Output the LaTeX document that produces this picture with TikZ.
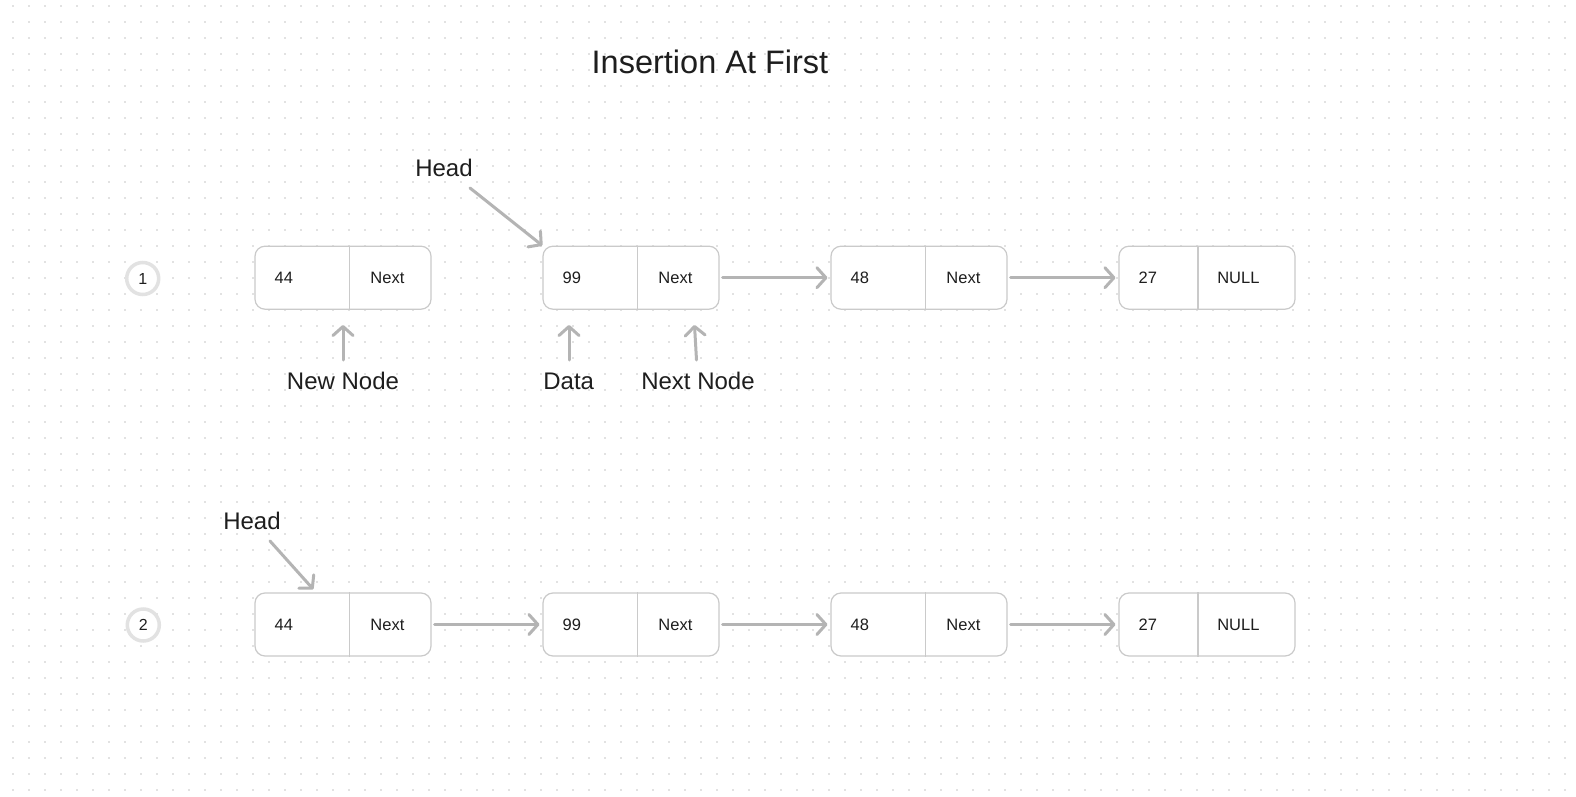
\documentclass[tikz,border=0pt]{standalone}
\usepackage{fontspec}
\setmainfont{Liberation Sans}
\usetikzlibrary{arrows.meta}
\definecolor{dotc}{HTML}{E2E2E2}
\definecolor{boxc}{HTML}{CACACA}
\definecolor{arrc}{HTML}{B4B4B4}
\definecolor{txt}{HTML}{1E1E1E}
\definecolor{circc}{HTML}{E2E2E2}
\newcommand\lln[7]{%
  \node[lnode] (#1) at (#2+88,#3) {};
  \draw[divline] ([xshift=#6pt]#1.north west) -- ([xshift=#6pt]#1.south west);
  \node[val, anchor=west] (#1d) at ([xshift=20pt]#1.west) {#4};
  \node[val] (#1n) at ([xshift=#7pt]#1.west) {#5};
}
\begin{document}
\begin{tikzpicture}[x=1pt,y=-1pt,
  lnode/.style={draw=boxc, line width=1.2pt, rounded corners=10pt, fill=white,
    minimum width=176pt, minimum height=63pt, inner sep=0pt},
  divline/.style={draw=boxc, line width=1.2pt},
  val/.style={font=\fontsize{16.5}{18}\selectfont, text=txt, inner sep=0pt},
  lbl/.style={font=\fontsize{24}{26}\selectfont, text=txt, inner sep=0pt},
  numc/.style={circle, draw=circc, line width=3.5pt, fill=white, minimum size=32pt,
    inner sep=0pt, font=\fontsize{16}{18}\selectfont, text=txt},
  arr/.style={draw=arrc, line width=3pt, line cap=round,
    -{Straight Barb[length=9pt,width=20pt,round]}},
]
\useasboundingbox (0,0) rectangle (1576,797);
\fill[white] (0,0) rectangle (1576,797);
\foreach \i in {0,...,97}{
  \foreach \j in {0,...,49}{
    \fill[dotc] ({12.7+16*\i-0.8},{6+16*\j-0.8}) rectangle +(1.6,1.6);
  }
}
% title
\node[font=\fontsize{32.5}{34}\selectfont, text=txt, inner sep=0pt] (title) at (710,62) {Insertion At First};

% row 1
\node[numc] (c1) at (142.7,278.5) {1};
\lln{a1}{255}{277.7}{44}{Next}{95}{133}
\lln{a2}{543}{277.7}{99}{Next}{95}{133}
\lln{a3}{831}{277.7}{48}{Next}{95}{133}
\lln{a4}{1119}{277.7}{27}{NULL}{79.5}{120}
\draw[arr, shorten <=3pt, shorten >=3pt] (a2.east) -- (a3.west);
\draw[arr, shorten <=3pt, shorten >=3pt] (a3.east) -- (a4.west);

\node[lbl] (head1) at (444,168) {Head};
\coordinate (h1s) at (470,188);
\draw[arr] (h1s) -- (a2.north west);

\node[lbl] (nnew) at (343,381) {New Node};
\node[lbl] (ndata) at (568.7,381) {Data};
\node[lbl] (nnext) at (698,381) {Next Node};
\draw[arr] (343,360) -- (343,325);
\draw[arr] (569,360) -- (569,325);
\draw[arr] (696.5,360) -- (694.5,325);

% row 2
\node[numc] (c2) at (143.3,625) {2};
\lln{b1}{255}{624.5}{44}{Next}{95}{133}
\lln{b2}{543}{624.5}{99}{Next}{95}{133}
\lln{b3}{831}{624.5}{48}{Next}{95}{133}
\lln{b4}{1119}{624.5}{27}{NULL}{79.5}{120}
\draw[arr, shorten <=3pt, shorten >=3pt] (b1.east) -- (b2.west);
\draw[arr, shorten <=3pt, shorten >=3pt] (b2.east) -- (b3.west);
\draw[arr, shorten <=3pt, shorten >=3pt] (b3.east) -- (b4.west);

\node[lbl] (head2) at (252,521) {Head};
\coordinate (h2s) at (270,541);
\coordinate (h2e) at (313.3,589.3);
\draw[arr] (h2s) -- (h2e);
\end{tikzpicture}
\end{document}
